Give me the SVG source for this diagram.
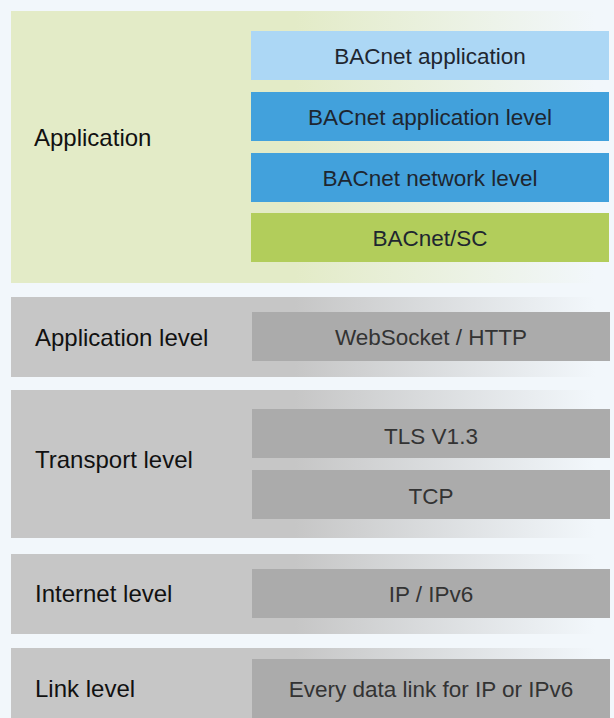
<svg xmlns="http://www.w3.org/2000/svg" width="614" height="718" viewBox="0 0 614 718">
<defs>
<linearGradient id="gGreen" gradientUnits="userSpaceOnUse" x1="0" y1="0" x2="614" y2="0">
<stop offset="0" stop-color="#e3ebc7"/><stop offset="0.48" stop-color="#e3ebc7"/><stop offset="0.97" stop-color="#f2f7fb"/>
</linearGradient>
<linearGradient id="gGray" gradientUnits="userSpaceOnUse" x1="0" y1="0" x2="614" y2="0">
<stop offset="0" stop-color="#c6c6c6"/><stop offset="0.48" stop-color="#c6c6c6"/><stop offset="0.97" stop-color="#f2f7fb"/>
</linearGradient>
</defs>
<style>
.lbl{font-family:"Liberation Sans",Arial,sans-serif;font-size:24px;fill:#111}
.txt{font-family:"Liberation Sans",Arial,sans-serif;font-size:22.5px;fill:#1e2630;text-anchor:middle}
.gtxt{font-family:"Liberation Sans",Arial,sans-serif;font-size:22.5px;fill:#333;text-anchor:middle}
.lb{fill:#acd7f5}.bl{fill:#42a1dc}.gr{fill:#b2cd5b}.gb{fill:#ababab}
</style>
<rect width="614" height="718" fill="#f2f7fb"/>
<g id="application">
<rect x="11" y="11" width="603" height="272" fill="url(#gGreen)"/>
<text class="lbl" x="34" y="146">Application</text>
</g>
<g id="bacnet-application"><rect class="lb" x="251" y="31" width="358" height="49"/><text class="txt" x="430" y="64">BACnet application</text></g>
<g id="bacnet-application-level"><rect class="bl" x="251" y="92" width="358" height="49"/><text class="txt" x="430" y="125">BACnet application level</text></g>
<g id="bacnet-network-level"><rect class="bl" x="251" y="153" width="358" height="49"/><text class="txt" x="430" y="186">BACnet network level</text></g>
<g id="bacnet-sc"><rect class="gr" x="251" y="213" width="358" height="49"/><text class="txt" x="430" y="246">BACnet/SC</text></g>

<g id="application-level">
<rect x="11" y="297" width="603" height="80" fill="url(#gGray)"/>
<text class="lbl" x="35" y="346">Application level</text>
</g>
<g id="websocket-http"><rect class="gb" x="252" y="312" width="358" height="49"/><text class="gtxt" x="431" y="345">WebSocket / HTTP</text></g>

<g id="transport-level">
<rect x="11" y="390" width="603" height="148" fill="url(#gGray)"/>
<text class="lbl" x="35" y="468">Transport level</text>
</g>
<g id="tls"><rect class="gb" x="252" y="409" width="358" height="49"/><text class="gtxt" x="431" y="444">TLS V1.3</text></g>
<g id="tcp"><rect class="gb" x="252" y="470" width="358" height="49"/><text class="gtxt" x="431" y="504">TCP</text></g>

<g id="internet-level">
<rect x="11" y="554" width="603" height="80" fill="url(#gGray)"/>
<text class="lbl" x="35" y="602">Internet level</text>
</g>
<g id="ip"><rect class="gb" x="252" y="569" width="358" height="49"/><text class="gtxt" x="431" y="602">IP / IPv6</text></g>

<g id="link-level">
<rect x="11" y="648" width="603" height="70" fill="url(#gGray)"/>
<text class="lbl" x="35" y="697">Link level</text>
</g>
<g id="data-link"><rect class="gb" x="252" y="659" width="358" height="59"/><text class="gtxt" x="431" y="697">Every data link for IP or IPv6</text></g>
<g id="connectors"/>
</svg>
